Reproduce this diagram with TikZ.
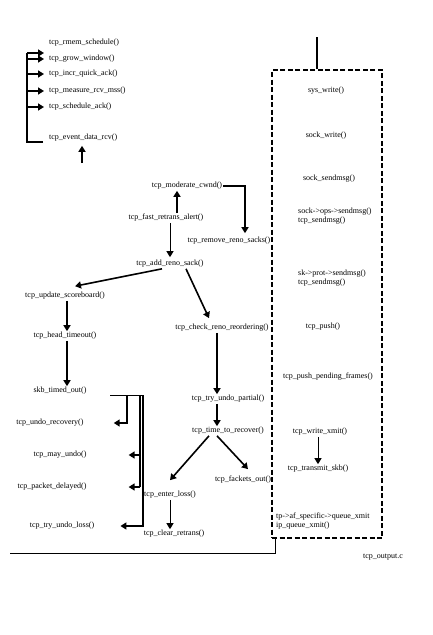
\documentclass[tikz,border=0pt]{standalone}
\usepackage{fontspec}
\setmainfont{Liberation Serif}
\usetikzlibrary{arrows.meta}

\begin{document}
\begin{tikzpicture}[
    x=1pt, y=-1pt,
    fn/.style={font=\fontsize{8}{9.5}\selectfont, inner sep=1pt},
    fnl/.style={fn, anchor=west, align=left},
    arr/.style={line width=1.6pt, -{Triangle[width=7pt,length=6pt]}},
    arrthin/.style={line width=1pt, -{Triangle[width=7pt,length=6pt]}},
    bar/.style={line width=1.6pt},
    thinbar/.style={line width=1pt},
    dashbox/.style={draw, line width=1.3pt, dash pattern=on 5pt off 2.5pt,
        minimum width=110pt, minimum height=468pt, inner sep=0pt},
]
\useasboundingbox (0,0) rectangle (433,635);

% receive side
\node[fnl] (rmem) at (48,43) {tcp\_rmem\_schedule()};
\node[fnl] (grow) at (48,59) {tcp\_grow\_window()};
\node[fnl] (incr) at (48,74) {tcp\_incr\_quick\_ack()};
\node[fnl] (measure) at (48,91) {tcp\_measure\_rcv\_mss()};
\node[fnl] (schedack) at (48,107) {tcp\_schedule\_ack()};
\node[fnl] (eventrcv) at (48,138) {tcp\_event\_data\_rcv()};
\coordinate (brtop) at (27,53);
\coordinate (rcvin) at (82,163);

\draw[bar] ([xshift=-5,yshift=-4]eventrcv.west) -| (brtop);
\draw[arr] (brtop) -- ([xshift=-4]brtop -| grow.west);
\foreach \n in {grow,incr,measure,schedack} {
    \draw[arr] (brtop |- \n.west) -- ([xshift=-4]\n.west);
}
\draw[arr] (rcvin) -- ([yshift=-3]rcvin |- eventrcv.south);

% congestion / recovery
\node[fn] (mod) at (187,186) {tcp\_moderate\_cwnd()};
\node[fn] (remove) at (229,241) {tcp\_remove\_reno\_sacks()};
\node[fn] (fast) at (166,218) {tcp\_fast\_retrans\_alert()};
\node[fn] (addreno) at (170,264) {tcp\_add\_reno\_sack()};
\node[fn] (update) at (65,296) {tcp\_update\_scoreboard()};
\node[fn] (headto) at (65,336) {tcp\_head\_timeout()};
\node[fn] (skbto) at (60,391) {skb\_timed\_out()};
\node[fn] (checkreno) at (222,328) {tcp\_check\_reno\_reordering()};
\node[fn] (tryundop) at (228,399) {tcp\_try\_undo\_partial()};
\node[fn] (timerec) at (228,431) {tcp\_time\_to\_recover()};
\node[fn] (fackets) at (243,480) {tcp\_fackets\_out()};
\node[fn] (enterloss) at (170,495) {tcp\_enter\_loss()};
\node[fn] (clearret) at (174,534) {tcp\_clear\_retrans()};
\node[fn] (undorec) at (50,423) {tcp\_undo\_recovery()};
\node[fn] (mayundo) at (60,455) {tcp\_may\_undo()};
\node[fn] (pktdelay) at (52,487) {tcp\_packet\_delayed()};
\node[fn] (tryundoloss) at (62,526) {tcp\_try\_undo\_loss()};

\draw[arr] (mod.east) -| ([xshift=16,yshift=3]remove.north);
\draw[arr] ([xshift=11]fast.north) -- ([xshift=11]fast.north |- mod.south);
\draw[arrthin] (fast.south -| addreno) -- ([yshift=2]addreno.north);
\draw[arr] ([xshift=-8]addreno.south) -- ([xshift=10,yshift=5]update.north);
\draw[arr] ([xshift=16]addreno.south) -- ([xshift=-13,yshift=5]checkreno.north);
\draw[arr] ([xshift=2]update.south) -- ([xshift=2]headto.north);
\draw[arr] ([xshift=2]headto.south) -- ([xshift=2]headto.south |- skbto.north);
\draw[arr] ([xshift=-5]checkreno.south) -- ([xshift=-5]checkreno.south |- tryundop.north);
\draw[arr] ([xshift=-11]tryundop.south) -- ([xshift=-11]timerec.north);
\draw[arr] ([xshift=-19]timerec.south) -- ([yshift=10]enterloss.north);
\draw[arr] ([xshift=-11]timerec.south) -- ([xshift=5,yshift=6]fackets.north);
\draw[arrthin] (enterloss.south) -- (enterloss.south |- clearret.north);

% timeout / undo fan-out
\coordinate (skbout) at (110,395);
\coordinate (fa) at (127,395);
\coordinate (fb) at (140,395);
\coordinate (fc) at (143,395);
\draw[thinbar] (skbout) -- (fc);
\draw[arr] (fa) |- ([xshift=29]undorec.east);
\draw[bar] (fb) -- (fb |- pktdelay.east);
\draw[arr] (fb |- mayundo.east) -- ([xshift=41]mayundo.east);
\draw[arr] (fb |- pktdelay.east) -- ([xshift=41]pktdelay.east);
\draw[arr] (fc) |- ([xshift=25]tryundoloss.east);

% send side (tcp_output.c)
\node[dashbox] (box) at (327,304) {};
\coordinate (sendin) at (317,37);
\coordinate (outl) at (10,553);
\draw[line width=1.3pt] (sendin) -- (sendin |- box.north);
\draw[thinbar] ([xshift=4]box.south west) |- (outl);

\node[fn] (sysw) at (326,91) {sys\_write()};
\node[fn] (sockw) at (326,136) {sock\_write()};
\node[fn] (socks) at (329,179) {sock\_sendmsg()};
\node[fnl] (opsmsg) at (297,216) {sock->ops->sendmsg()\\tcp\_sendmsg()};
\node[fnl] (protmsg) at (297,278) {sk->prot->sendmsg()\\tcp\_sendmsg()};
\node[fn] (push) at (323,327) {tcp\_push()};
\node[fn] (pending) at (328,377) {tcp\_push\_pending\_frames()};
\node[fn] (writex) at (320,432) {tcp\_write\_xmit()};
\node[fn] (transmit) at (318,469) {tcp\_transmit\_skb()};
\node[fnl] (queue) at (275,521) {tp->af\_specific->queue\_xmit\\ip\_queue\_xmit()};
\node[fn] (tcpout) at (383,557) {tcp\_output.c};

\draw[arrthin] (writex.south -| transmit) -- (transmit.north);
\end{tikzpicture}
\end{document}
